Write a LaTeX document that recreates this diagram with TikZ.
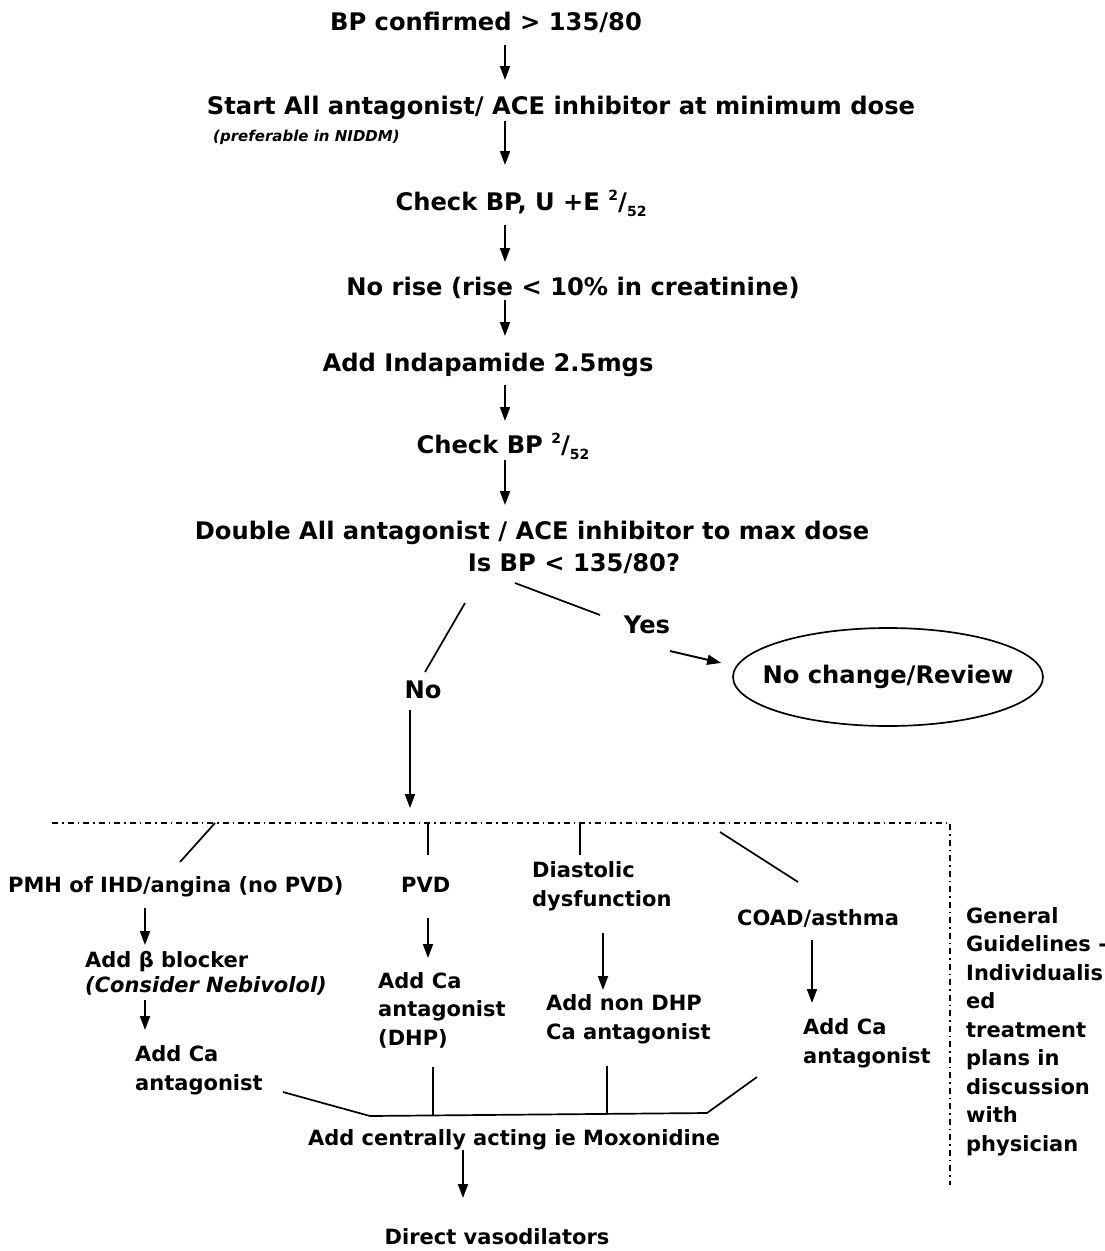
\documentclass[tikz,border=0pt]{standalone}
\usepackage{fontspec}
\setmainfont{DejaVu Sans}
\usetikzlibrary{arrows.meta,shapes.geometric,calc}

% two-week marker: superscript 2 over subscript 52
\newcommand\twoweeks{\raisebox{0.40em}{\fontsize{14}{14}\selectfont 2}/\raisebox{-0.28em}{\fontsize{14}{14}\selectfont 52}}

\begin{document}
\begin{tikzpicture}[x=1pt,y=-1pt,
  txt/.style={inner sep=0pt, anchor=base, font=\fontsize{24.2}{28}\selectfont\bfseries},
  btxt/.style={inner sep=0pt, anchor=base west, align=left, font=\fontsize{21}{28.5}\selectfont\bfseries},
  note/.style={inner sep=0pt, anchor=base west, font=\fontsize{15}{18}\selectfont\bfseries\itshape},
  arr/.style={line width=1.9pt, -{Triangle[length=14pt,width=10pt]}},
  ln/.style={line width=1.7pt},
  dd/.style={line width=1.3pt, dash pattern=on 6pt off 4pt on 1.5pt off 4pt}]
\useasboundingbox (0,0) rectangle (1105,1251);

% main column
\coordinate (ax) at (505,0);
\node[txt] (t1) at (486,30) {BP confirmed > 135/80};
\node[txt] (t2) at (561,114) {Start All antagonist/ ACE inhibitor at minimum dose};
\node[note] (t2b) at (213,141) {(preferable in NIDDM)};
\node[txt] (t3) at (521,210) {Check BP, U +E \twoweeks};
\node[txt] (t4) at (573,295) {No rise (rise < 10\% in creatinine)};
\node[txt] (t5) at (488,371) {Add Indapamide 2.5mgs};
\node[txt] (t6) at (503,453) {Check BP \twoweeks};
\node[txt] (t7) at (532,539) {Double All antagonist / ACE inhibitor to max dose};
\node[txt] (t8) at (574,571) {Is BP < 135/80?};

\draw[arr, shorten <=15pt, shorten >=34pt] (t1.base -| ax) -- (t2.base -| ax);
\draw[arr, shorten <=7pt, shorten >=45pt] (t2.base -| ax) -- (t3.base -| ax);
\draw[arr, shorten <=15pt, shorten >=33pt] (t3.base -| ax) -- (t4.base -| ax);
\draw[arr, shorten <=5pt, shorten >=35pt] (t4.base -| ax) -- (t5.base -| ax);
\draw[arr, shorten <=14pt, shorten >=32pt] (t5.base -| ax) -- (t6.base -| ax);
\draw[arr, shorten <=7pt, shorten >=34pt] (t6.base -| ax) -- (t7.base -| ax);

% decision
\node[txt] (no) at (423,698) {No};
\node[txt] (yes) at (647,633) {Yes};
\node[draw, ellipse, line width=1.7pt, minimum width=310pt, minimum height=98pt,
      inner xsep=-20pt, inner ysep=0pt, font=\fontsize{24.2}{28}\selectfont\bfseries] (ell) at (888,677) {No change/Review};

\draw[ln] ($(t8.base)+(-109,32)$) -- ($(no.base)+(2,-26)$);
\draw[ln] ($(t8.base)+(-59,12)$) -- ($(yes.base)+(-47,-18)$);
\draw[arr, shorten >=15pt] ($(yes.base)+(23,18)$) -- (ell.176);

% branch rail
\coordinate (railL) at (52,823);
\coordinate (railR) at (950,823);
\coordinate (railB) at (950,1185);
\coordinate (hub) at (410,823);
\draw[dd] (railL) -- (railR) -- (railB);
\draw[arr, shorten >=15pt] ($(no.base)+(-13,12)$) -- (hub);

% branch headings (base = last line)
\node[btxt] (pmh) at (8,892) {PMH of IHD/angina (no PVD)};
\node[btxt] (pvd) at (401,892) {PVD};
\node[btxt] (dia) at (532,906) {Diastolic\\dysfunction};
\node[btxt] (coad) at (737,925) {COAD/asthma};
\node[btxt] (gen) at (966,1151) {General\\Guidelines -\\Individualis\\ed\\treatment\\plans in\\discussion\\with\\physician};

\coordinate (b1) at (215,823);
\coordinate (b2) at (428,823);
\coordinate (b3) at (580,823);
\coordinate (b4) at (720,832);
\draw[ln] (b1) -- ($(pmh.base west)+(172,-30)$);
\draw[ln] (b2) -- ($(pvd.base west)+(27,-37)$);
\draw[ln] (b3) -- ($(dia.base west)+(48,-51)$);
\draw[ln] (b4) -- ($(coad.base west)+(61,-43)$);

% branch treatments (base = last line)
\node[btxt] (bb) at (85,967) {Add β blocker};
\node[note, font=\fontsize{21}{24}\selectfont\bfseries\itshape] (neb) at (85,992) {(Consider Nebivolol)};
\node[btxt] (caA) at (135,1090) {Add Ca\\antagonist};
\node[btxt] (caB) at (378,1045) {Add Ca\\antagonist\\(DHP)};
\node[btxt] (caC) at (546,1039) {Add non DHP\\Ca antagonist};
\node[btxt] (caD) at (803,1063) {Add Ca\\antagonist};

\draw[arr] ($(pmh.base west)+(137,16)$) -- ($(bb.base west)+(60,-22)$);
\draw[arr] ($(neb.base west)+(60,8)$) -- ($(caA.base west)+(10,-60)$);
\draw[arr] ($(pvd.base west)+(27,26)$) -- ($(caB.base west)+(50,-87)$);
\draw[arr] ($(dia.base west)+(71,27)$) -- ($(caC.base west)+(57,-49)$);
\draw[arr] ($(coad.base west)+(75,15)$) -- ($(caD.base west)+(9,-60)$);

% merge into centrally acting
\coordinate (m0) at (283,1092);
\coordinate (m1) at (330,1105);
\coordinate (m2) at (370,1116);
\coordinate (m3) at (707,1113);
\coordinate (m4) at (757,1077);
\coordinate (v1) at (433,1067);
\coordinate (v2) at (607,1066);
\node[txt, font=\fontsize{21}{25}\selectfont\bfseries] (mox) at (514,1145) {Add centrally acting ie Moxonidine};
\node[txt, font=\fontsize{21}{25}\selectfont\bfseries] (dv) at (497,1244) {Direct vasodilators};
\draw[ln, line join=round] (m0) -- (m1) -- (m2) -- (m3) -- (m4);
\draw[ln] (v1) -- (v1 |- m2);
\draw[ln] (v2) -- (v2 |- m3);
\draw[arr] ($(mox.base)+(-51,5)$) -- ($(dv.base)+(-34,-46)$);
\end{tikzpicture}
\end{document}
